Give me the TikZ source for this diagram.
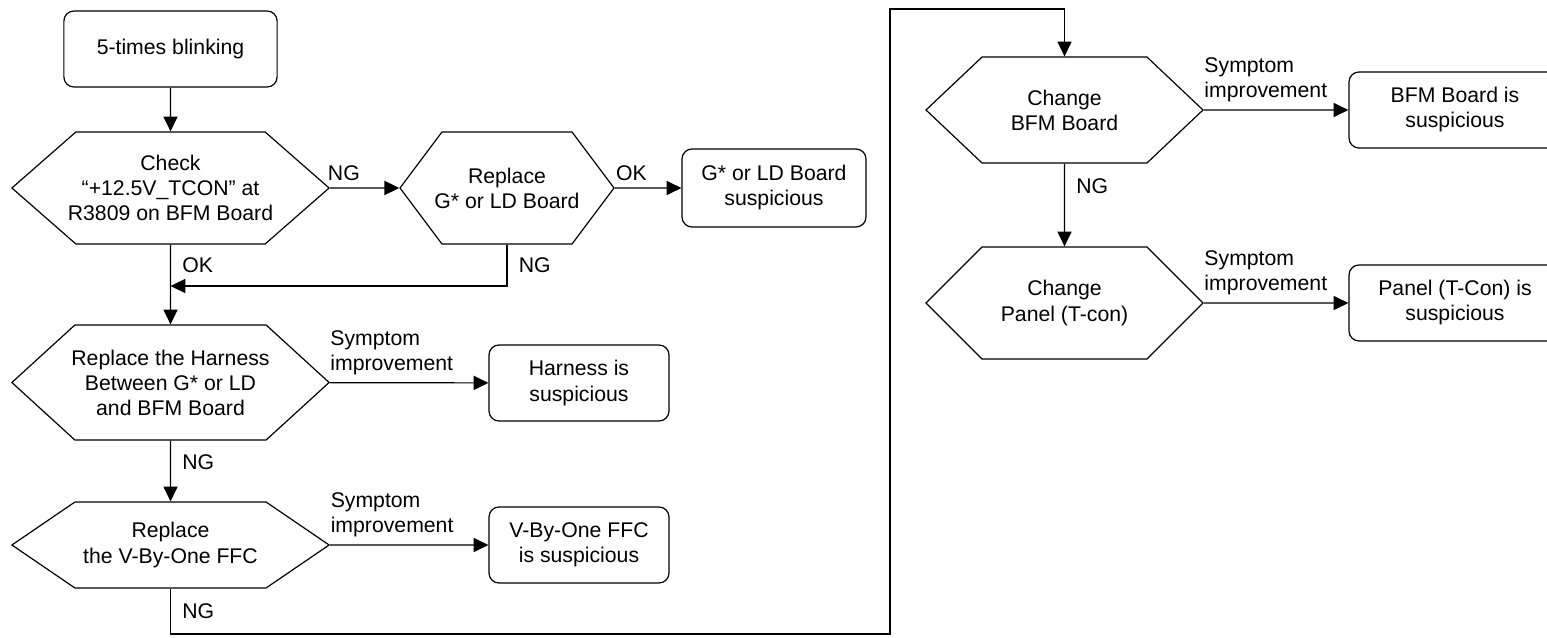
\documentclass[tikz,border=0pt]{standalone}
\usepackage{fontspec}
\setmainfont{Liberation Sans}
\usetikzlibrary{shapes.symbols,arrows.meta}

\begin{document}
\begin{tikzpicture}
[every node/.style={font=\fontsize{15.1}{17.8}\selectfont, align=center},
 line width=0.85pt, >={Triangle[length=10.5pt,width=10pt]},
 box/.style={shape=rectangle, rounded corners=0.25cm, draw, minimum width=#1, minimum height=1.9cm},
 hexa/.style={shape=signal, signal to=east and west, draw, inner xsep=-0.4cm, inner ysep=0pt},
 lbl/.style={inner sep=5pt},
 sym/.style={pos=0, anchor=south west, align=left, inner xsep=0pt, inner ysep=5pt}]
\useasboundingbox (0,0) rectangle (38.675,15.925);
\node (1) at (4.2625,14.7) [box=5.33cm] {5-times blinking};
\node (2) at (4.2625,11.225) [hexa, minimum width=7.93cm, minimum height=2.8cm, signal pointer angle=82.4] {Check\\
                                        “+12.5V\_TCON” at\\
                                        R3809 on BFM Board};
\node (3) at (12.675,11.225) [hexa, minimum width=5.35cm, minimum height=2.8cm, signal pointer angle=106.3] {Replace\\
                                        G* or LD Board};
\node (4) at (19.35,11.225) [box=4.6cm, minimum height=1.95cm] {G* or LD Board\\
                                        suspicious};
\node (5) at (4.2625,6.3625) [hexa, minimum width=7.93cm, minimum height=2.875cm, signal pointer angle=84.8] {Replace the Harness\\
                                        Between G* or LD\\
                                        and BFM Board};
\node (6) at (14.475,6.35) [box=4.5cm] {Harness is\\
                                        suspicious};
\node (7) at (4.2625,2.3) [hexa, minimum width=7.93cm, minimum height=2.15cm, signal pointer angle=68.6] {Replace\\
                                        the V-By-One FFC};
\node (8) at (14.475,2.3) [box=4.5cm] {V-By-One FFC\\
                                        is suspicious};
\node (9) at (26.6125,13.175) [hexa, minimum width=6.925cm, minimum height=2.65cm, signal pointer angle=86.8] {Change\\
                                        BFM Board};
\node (10) at (36.375,13.175) [box=5.3cm] {BFM Board is\\
                                        suspicious};
\node (11) at (26.6125,8.35) [hexa, minimum width=6.925cm, minimum height=2.8cm, signal pointer angle=90] {Change\\
                                        Panel (T-con)};
\node (12) at (36.375,8.35) [box=5.3cm] {Panel (T-Con) is\\
                                        suspicious};
\coordinate (m) at (4.2625,8.775);
\coordinate (p1) at (22.25,0.075);
\coordinate (p2) at (22.25,15.7);
\draw [->] (1) edge (2);
\draw [->] (2) edge node[lbl, above, pos=0.2] {NG} (3);
\draw [->] (3) edge node[lbl, above, pos=0.25] {OK} (4);
\draw [->] (2) edge node[lbl, right, pos=0.26, inner xsep=8pt] {OK} (5);
\draw [->] (3) |- node[lbl, right, pos=0.25, inner xsep=8pt] {NG} (m);
\draw [->] (5) edge node[sym] {Symptom\\improvement} (6);
\draw [->] (5) edge node[lbl, right, pos=0.35, inner xsep=8pt] {NG} (7);
\draw [->] (7) edge node[sym] {Symptom\\improvement} (8);
\draw [->] (7) |- node[lbl, right, pos=0.25, inner xsep=8pt] {NG} (p1) -- (p2) -| (9);
\draw [->] (9) edge node[sym] {Symptom\\improvement} (10);
\draw [->] (9) edge node[lbl, right, pos=0.27, inner xsep=8pt] {NG} (11);
\draw [->] (11) edge node[sym] {Symptom\\improvement} (12);
\end{tikzpicture}
\end{document}
